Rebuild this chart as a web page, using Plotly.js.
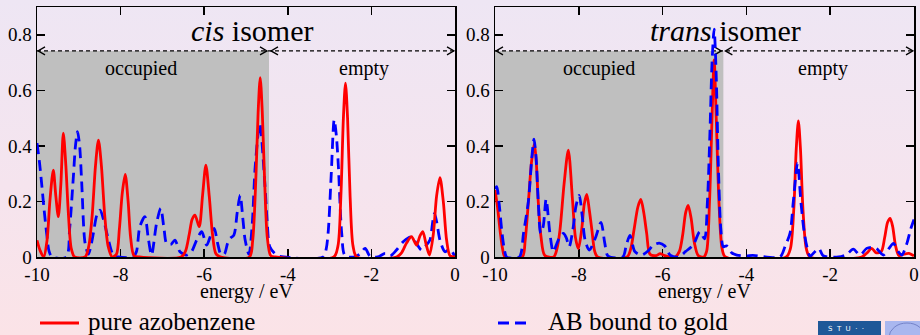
<!DOCTYPE html>
<html>
<head>
<meta charset="utf-8">
<script src="https://cdn.plot.ly/plotly-3.0.1.min.js"></script>
<style>
html,body{margin:0;padding:0;}
body{width:920px;height:335px;overflow:hidden;background:linear-gradient(to bottom,#eee6f4 0%,#f5e4ee 55%,#fbe3e7 100%);}
#chart{width:920px;height:335px;}
</style>
</head>
<body>
<div id="chart"></div>
<script>
// ---- data ----
const xTickVals = [-10, -8, -6, -4, -2, 0];
const xTickText = ['-10', '-8', '-6', '-4', '-2', '0'];
const yTickVals = [0, 0.2, 0.4, 0.6, 0.8];
const yTickText = ['0', '0.2', '0.4', '0.6', '0.8'];

const seriesNames = ['pure azobenzene', 'AB bound to gold'];
const panelTitles = ['<i>cis</i> isomer', '<i>trans</i> isomer'];
const regionLabels = ['occupied', 'empty'];
const axisTitle = 'energy / eV';
const homoLevel = [-4.45, -4.55];   // occupied/empty boundary per panel (eV)
const shadeTop = 0.742;

// cis isomer, pure azobenzene (red)
const cisPureX = [-10,-9.93,-9.84,-9.76,-9.69,-9.61,-9.55,-9.49,-9.43,-9.37,-9.31,-9.25,-9.18,-9.1,-8.85,-8.76,-8.68,-8.6,-8.53,-8.46,-8.38,-8.3,-8.2,-8.1,-8.03,-7.96,-7.89,-7.82,-7.76,-7.68,-7.55,-6.55,-6.45,-6.36,-6.29,-6.22,-6.12,-6.04,-5.96,-5.88,-5.8,-5.72,-5.6,-4.92,-4.84,-4.76,-4.71,-4.66,-4.61,-4.56,-4.49,-4.41,-4.3,-2.9,-2.8,-2.73,-2.67,-2.62,-2.57,-2.51,-2.44,-2.35,-1.4,-1.28,-1.16,-1.04,-0.92,-0.84,-0.77,-0.69,-0.61,-0.52,-0.44,-0.36,-0.28,-0.2,-0.12,0];
const cisPureY = [0.06,0.025,0,0.06,0.205,0.313,0.22,0.145,0.26,0.446,0.33,0.158,0.03,0,0,0.04,0.15,0.33,0.421,0.33,0.15,0.04,0,0.01,0.1,0.23,0.297,0.2,0.07,0.005,0,0,0.02,0.08,0.135,0.151,0.109,0.22,0.331,0.22,0.08,0.012,0,0,0.06,0.3,0.52,0.646,0.52,0.3,0.07,0.005,0,0,0.04,0.22,0.5,0.626,0.5,0.22,0.04,0,0,0.015,0.05,0.073,0.043,0.075,0.091,0.045,0.007,0.08,0.22,0.286,0.2,0.06,0.005,0];

// cis isomer, AB bound to gold (blue dashed)
const cisGoldX = [-10,-9.94,-9.89,-9.83,-9.77,-9.71,-9.64,-9.3,-9.22,-9.13,-9.08,-9.03,-8.98,-8.93,-8.85,-8.77,-8.71,-8.65,-8.57,-8.49,-8.4,-8.29,-8.17,-8.05,-7.7,-7.62,-7.54,-7.42,-7.34,-7.26,-7.14,-7.04,-6.96,-6.9,-6.8,-6.7,-6.58,-6.42,-6.3,-6.18,-6.06,-5.94,-5.84,-5.76,-5.68,-5.6,-5.52,-5.44,-5.38,-5.29,-5.21,-5.14,-5.07,-5.02,-4.93,-4.85,-4.78,-4.67,-4.55,-4.49,-4.43,-4.27,-4.1,-3.15,-3.08,-3.03,-2.96,-2.89,-2.84,-2.79,-2.71,-2.63,-2.4,-2.28,-2.15,-2.03,-1.85,-1.67,-1.55,-1.4,-1.24,-1.1,-1.04,-0.92,-0.8,-0.7,-0.6,-0.53,-0.49,-0.43,-0.36,-0.24,-0.12,0];
const cisGoldY = [0.41,0.34,0.266,0.17,0.086,0.02,0,0,0.1,0.289,0.4,0.451,0.4,0.266,0.05,0.01,0.04,0.086,0.15,0.169,0.13,0.061,0.005,0,0,0.02,0.109,0.145,0.07,0.007,0.121,0.175,0.1,0.049,0.045,0.061,0.019,0.007,0.02,0.061,0.091,0.043,0.08,0.103,0.05,0.01,0.01,0.05,0.067,0.079,0.16,0.223,0.13,0.061,0.01,0.12,0.325,0.48,0.265,0.12,0.037,0.007,0,0,0.03,0.097,0.3,0.494,0.44,0.326,0.085,0.005,0,0.01,0.031,0.002,0,0.013,0.004,0.025,0.055,0.07,0.073,0.048,0.025,0.04,0.061,0.13,0.157,0.12,0.061,0.019,0.028,0.001];

// trans isomer, pure azobenzene (red)
const transPureX = [-10,-9.94,-9.88,-9.82,-9.76,-9.35,-9.28,-9.2,-9.13,-9.06,-9.01,-8.97,-8.9,-8.81,-8.6,-8.52,-8.45,-8.35,-8.25,-8.15,-8.08,-8.01,-7.93,-7.87,-7.81,-7.75,-7.69,-7.62,-7.55,-6.85,-6.76,-6.68,-6.59,-6.52,-6.45,-6.38,-6.3,-6.15,-6.06,-5.95,-5.7,-5.6,-5.52,-5.45,-5.39,-5.32,-5.24,-5.15,-5.02,-4.95,-4.88,-4.82,-4.77,-4.72,-4.65,-4.58,-4.5,-3.05,-2.95,-2.87,-2.81,-2.76,-2.71,-2.65,-2.57,-2.48,-1.25,-1.12,-1.01,-0.9,-0.78,-0.7,-0.63,-0.57,-0.51,-0.44,-0.36,-0.25,-0.12,0];
const transPureY = [0.241,0.18,0.097,0.03,0,0,0.06,0.205,0.34,0.409,0.33,0.205,0.07,0.005,0,0.03,0.097,0.265,0.385,0.205,0.07,0.03,0.1,0.19,0.225,0.17,0.1,0.02,0,0,0.03,0.1,0.18,0.207,0.16,0.085,0.01,0.005,0.012,0.005,0,0.02,0.08,0.16,0.186,0.14,0.05,0.005,0,0.02,0.2,0.5,0.71,0.5,0.18,0.03,0,0,0.03,0.17,0.39,0.49,0.39,0.17,0.03,0,0,0.015,0.031,0.015,0.02,0.07,0.125,0.139,0.11,0.04,0.005,0.01,0.013,0.004];

// trans isomer, AB bound to gold (blue dashed)
const transGoldX = [-10,-9.96,-9.9,-9.84,-9.78,-9.72,-9.42,-9.32,-9.2,-9.12,-9.07,-9.02,-8.97,-8.91,-8.85,-8.78,-8.69,-8.61,-8.52,-8.45,-8.37,-8.3,-8.23,-8.14,-8.07,-7.99,-7.92,-7.85,-7.75,-7.6,-7.47,-7.38,-7.3,-6.95,-6.87,-6.78,-6.66,-6.5,-6.36,-6.22,-6.08,-5.95,-5.82,-5.62,-5.45,-5.27,-5.11,-5.0,-4.93,-4.87,-4.82,-4.77,-4.72,-4.67,-4.61,-4.55,-4.47,-4.35,-4.23,-4.0,-3.85,-3.2,-3.08,-2.96,-2.88,-2.78,-2.7,-2.63,-2.56,-2.48,-2.36,-2.27,-2.17,-1.8,-1.6,-1.45,-1.29,-1.13,-1.0,-0.89,-0.73,-0.6,-0.49,-0.38,-0.29,-0.17,-0.08,0];
const transGoldY = [0.245,0.253,0.19,0.097,0.03,0,0,0.085,0.205,0.36,0.424,0.36,0.205,0.086,0.11,0.208,0.086,0.019,0.05,0.073,0.085,0.07,0.037,0.1,0.181,0.222,0.15,0.061,0.025,0.07,0.125,0.05,0.003,0,0.04,0.078,0.019,0.007,0.02,0.043,0.05,0.04,0.007,0,0.02,0.043,0.091,0.065,0.2,0.45,0.7,0.82,0.65,0.33,0.1,0.037,0.04,0.015,0.007,0.004,0.006,0,0.037,0.085,0.2,0.338,0.2,0.1,0.04,0.003,0.02,0.031,0.005,0,0.01,0.028,0.007,0.031,0.035,0.03,0.007,0.03,0.049,0.02,0.007,0.049,0.1,0.135];

// ---- drawing ----
const W = 920, H = 335;
const px = v => v / W;            // pixel -> paper x
const py = v => (H - v) / H;      // pixel -> paper y
const serif = 'Liberation Serif, Times New Roman, serif';
const RED = '#ff0000', BLUE = '#0000ff';

function line(x, y, xa, ya, color, dash, name) {
  return {
    type: 'scatter', mode: 'lines', x: x, y: y, xaxis: xa, yaxis: ya, name: name,
    line: {color: color, width: 2.8, dash: dash, shape: 'spline', smoothing: 0.8},
    showlegend: false, hoverinfo: 'skip'
  };
}
const traces = [
  line(cisGoldX, cisGoldY, 'x', 'y', BLUE, '11px,6px', seriesNames[1]),
  line(cisPureX, cisPureY, 'x', 'y', RED, 'solid', seriesNames[0]),
  line(transPureX, transPureY, 'x2', 'y2', RED, 'solid', seriesNames[0]),
  line(transGoldX, transGoldY, 'x2', 'y2', BLUE, '11px,6px', seriesNames[1])
];

function xax(domain, anchor) {
  return {
    domain: domain, anchor: anchor, range: [-10, 0], tickvals: xTickVals, ticktext: xTickText,
    ticks: 'inside', ticklen: 8, tickwidth: 1.5, tickcolor: '#000', mirror: 'ticks',
    showline: true, linewidth: 1.5, linecolor: '#000', showgrid: false, zeroline: false,
    tickfont: {family: serif, size: 19, color: '#000'}, layer: 'below traces', fixedrange: true
  };
}
function yax(domain, anchor) {
  return {
    domain: domain, anchor: anchor, range: [0, 0.9], tickvals: yTickVals, ticktext: yTickText,
    ticks: 'inside', ticklen: 8, tickwidth: 1.5, tickcolor: '#000', mirror: 'ticks',
    showline: true, linewidth: 1.5, linecolor: '#000', showgrid: false, zeroline: false,
    tickfont: {family: serif, size: 19, color: '#000'}, layer: 'below traces', fixedrange: true
  };
}
const yDom = [py(257), py(7)];

const shapes = [];
const annotations = [];
const panels = [
  {xr: 'x', yr: 'y', split: homoLevel[0], title: panelTitles[0], titleX: -4.86, cx: 246},
  {xr: 'x2', yr: 'y2', split: homoLevel[1], title: panelTitles[1], titleX: -4.5, cx: 704.5}
];
panels.forEach(p => {
  shapes.push({type: 'rect', xref: p.xr, yref: p.yr, x0: -10, x1: p.split, y0: 0, y1: shadeTop,
    fillcolor: '#bfbfbf', line: {width: 0}, layer: 'below'});
  shapes.push({type: 'line', xref: p.xr, yref: p.yr, x0: -10, x1: 0, y0: shadeTop, y1: shadeTop,
    line: {color: '#000', width: 1.2, dash: '4px,3px'}, layer: 'below'});
  const chev = (xa, path) => ({type: 'path', xref: p.xr, yref: p.yr, xsizemode: 'pixel', ysizemode: 'pixel',
    xanchor: xa, yanchor: shadeTop, path: path, line: {color: '#000', width: 1.3}, layer: 'below'});
  shapes.push(chev(-10, 'M 8,4 L 1,0 L 8,-4'));
  shapes.push(chev(p.split, 'M -9,4 L -2,0 L -9,-4'));
  shapes.push(chev(p.split, 'M 9,4 L 2,0 L 9,-4'));
  shapes.push(chev(0, 'M -8,4 L -1,0 L -8,-4'));
  annotations.push({xref: p.xr, yref: p.yr, x: p.titleX, y: 0.815, text: p.title, showarrow: false,
    xanchor: 'center', yanchor: 'middle', font: {family: serif, size: 30, color: '#000'}});
  annotations.push({xref: p.xr, yref: p.yr, x: -7.52, y: 0.68, text: regionLabels[0], showarrow: false,
    font: {family: serif, size: 20, color: '#000'}});
  annotations.push({xref: p.xr, yref: p.yr, x: -2.18, y: 0.68, text: regionLabels[1], showarrow: false,
    font: {family: serif, size: 20, color: '#000'}});
  annotations.push({xref: 'paper', yref: 'paper', x: px(p.cx), y: py(291), text: axisTitle, showarrow: false,
    xanchor: 'center', yanchor: 'middle', font: {family: serif, size: 20, color: '#000'}});
});

// legend
shapes.push({type: 'line', xref: 'paper', yref: 'paper', x0: px(40), x1: px(79), y0: py(323), y1: py(323),
  line: {color: RED, width: 2.8}});
shapes.push({type: 'line', xref: 'paper', yref: 'paper', x0: px(498), x1: px(532), y0: py(323), y1: py(323),
  line: {color: BLUE, width: 2.8, dash: '11px,6px'}});
annotations.push({xref: 'paper', yref: 'paper', x: px(86), y: py(321), text: seriesNames[0], showarrow: false,
  xanchor: 'left', yanchor: 'middle', font: {family: serif, size: 25, color: '#000'}});
annotations.push({xref: 'paper', yref: 'paper', x: px(546), y: py(321), text: seriesNames[1], showarrow: false,
  xanchor: 'left', yanchor: 'middle', font: {family: serif, size: 25, color: '#000'}});

// logo (decorative)
shapes.push({type: 'rect', xref: 'paper', yref: 'paper', x0: px(818), x1: px(881), y0: py(336), y1: py(321),
  fillcolor: '#1f5898', line: {width: 0}});
shapes.push({type: 'rect', xref: 'paper', yref: 'paper', x0: px(885), x1: px(921), y0: py(336), y1: py(321),
  fillcolor: '#a9b7ef', line: {width: 0}});
shapes.push({type: 'circle', xref: 'paper', yref: 'paper', x0: px(889), x1: px(925), y0: py(352), y1: py(323),
  fillcolor: 'rgba(0,0,0,0)', line: {color: '#7482c8', width: 1}});
annotations.push({xref: 'paper', yref: 'paper', x: px(846), y: py(329), text: 'S  T  U  ·  ·', showarrow: false,
  xanchor: 'center', yanchor: 'middle', font: {family: 'DejaVu Sans, sans-serif', size: 7, color: '#ffffff'}});

const layout = {
  width: W, height: H, margin: {l: 0, r: 0, t: 0, b: 0},
  paper_bgcolor: 'rgba(0,0,0,0)', plot_bgcolor: 'rgba(0,0,0,0)',
  showlegend: false,
  xaxis: xax([px(37), px(455)], 'y'),
  yaxis: yax(yDom, 'x'),
  xaxis2: xax([px(495), px(914)], 'y2'),
  yaxis2: yax(yDom, 'x2'),
  shapes: shapes, annotations: annotations,
  font: {family: serif, color: '#000'}
};
Plotly.newPlot('chart', traces, layout, {displayModeBar: false, staticPlot: true});
</script>
</body>
</html>
